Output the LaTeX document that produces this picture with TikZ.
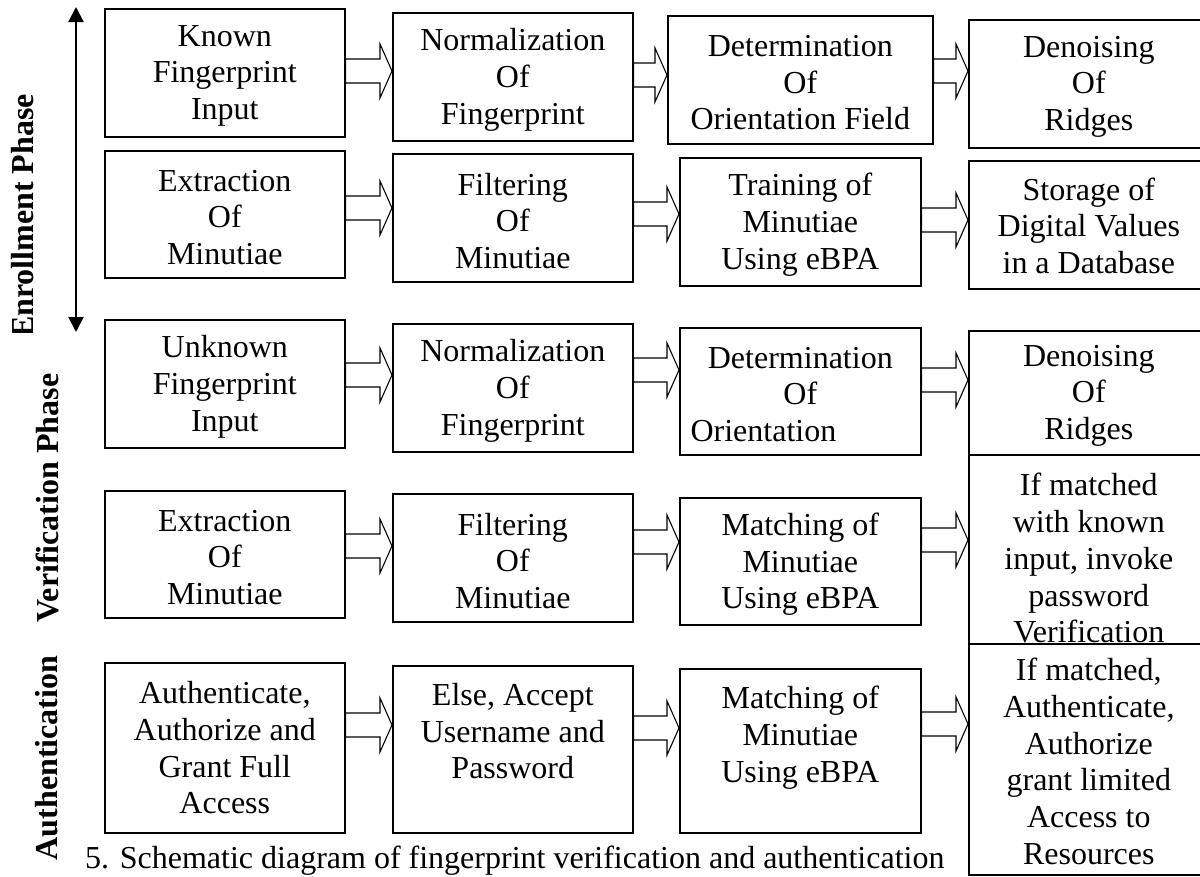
\documentclass[tikz,border=0pt]{standalone}
\usepackage{fontspec}
\setmainfont{Liberation Serif}
\usetikzlibrary{arrows.meta,calc}
\tikzset{
  box/.style={draw, line width=1.6pt, inner sep=0pt, anchor=north west},
  txt/.style={align=center, inner sep=0pt, font=\fontsize{32}{36.7}\selectfont},
  barr/.style={draw, line width=1.1pt, line join=miter},
  side/.style={rotate=90, inner sep=0pt, font=\fontsize{32}{36.7}\selectfont\bfseries},
}
% name, x1, y1, x2, y2, text shift, text
\newcommand\mkbox[7]{%
  \node[box, minimum width={(#4-#2)*1pt}, minimum height={(#5-#3)*1pt}] (#1) at (#2,#3) {};
  \node[txt] (#1t) at ($(#1.center)+(0,#6)$) {#7};}
% source, target, y
\newcommand\blk[3]{%
  \coordinate (yy) at (0,#3);
  \coordinate (s) at (#1.east |- yy);
  \coordinate (t) at (#2.west |- yy);
  \draw[barr] ($(s)+(0,-12)$) -- ($(t)+(-12,-12)$) -- ($(t)+(-12,-27)$) -- (t)
     -- ($(t)+(-12,27)$) -- ($(t)+(-12,12)$) -- ($(s)+(0,12)$) -- cycle;}
\begin{document}
\begin{tikzpicture}[x=1pt,y=-1pt]
\useasboundingbox (0,0) rectangle (1200,876);

% row 1
\mkbox{k1}{104}{8}{344}{136}{3}{Known\\Fingerprint\\Input}
\mkbox{k2}{392}{12}{632}{140}{3}{Normalization\\Of\\Fingerprint}
\mkbox{k3}{667}{15}{932}{143}{3}{Determination\\Of\\Orientation Field}
\mkbox{k4}{968}{19}{1208}{147}{3}{Denoising\\Of\\Ridges}
% row 2
\mkbox{e1}{104}{150}{344}{277}{3}{Extraction\\Of\\Minutiae}
\mkbox{e2}{392}{153}{632}{281}{3}{Filtering\\Of\\Minutiae}
\mkbox{e3}{679}{157}{920}{285}{3}{Training of\\Minutiae\\Using eBPA}
\mkbox{e4}{968}{160}{1208}{288}{1}{Storage of\\Digital Values\\in a Database}
% row 3
\mkbox{u1}{104}{319}{344}{447}{3}{Unknown\\Fingerprint\\Input}
\mkbox{u2}{392}{323}{632}{451}{3}{Normalization\\Of\\Fingerprint}
\mkbox{u3}{679}{327}{920}{454}{3}{Determination\\Of\\Orientation\phantom{ Field}}
\mkbox{u4}{968}{330}{1208}{454}{3}{Denoising\\Of\\Ridges}
% row 4
\mkbox{v1}{104}{490}{344}{617}{3}{Extraction\\Of\\Minutiae}
\mkbox{v2}{392}{493}{632}{621}{3}{Filtering\\Of\\Minutiae}
\mkbox{v3}{679}{497}{920}{624}{3}{Matching of\\Minutiae\\Using eBPA}
\mkbox{v4}{968}{454}{1208}{643}{9}{If matched\\with known\\input, invoke\\password\\Verification}
% row 5
\mkbox{a1}{104}{662}{344}{832}{0}{Authenticate,\\Authorize and\\Grant Full\\Access}
\mkbox{a2}{392}{665}{632}{832}{-18}{Else, Accept\\Username and\\Password}
\mkbox{a3}{679}{668}{920}{832}{-13}{Matching of\\Minutiae\\Using eBPA}
\mkbox{a4}{968}{643}{1208}{874}{2}{If matched,\\Authenticate,\\Authorize\\grant limited\\Access to\\Resources}

% block arrows
\blk{k1}{k2}{71}  \blk{k2}{k3}{75}  \blk{k3}{k4}{71}
\blk{e1}{e2}{208} \blk{e2}{e3}{214} \blk{e3}{e4}{220}
\blk{u1}{u2}{375} \blk{u2}{u3}{370} \blk{u3}{u4}{380}
\blk{v1}{v2}{546} \blk{v2}{v3}{542} \blk{v3}{v4}{540}
\blk{a1}{a2}{725} \blk{a2}{a3}{728} \blk{a3}{a4}{724}

% phase arrow
\coordinate (atop) at (76,7);
\coordinate (abot) at (76,332);
\draw[line width=2pt, {Triangle[width=15pt,length=15pt]}-{Triangle[width=15pt,length=15pt]}] (atop) -- (abot);

% side labels
\begin{scope}
  \clip (0,0) rectangle (40,332);
  \node[side] (enr) at (23,216) {Enrollment Phase};
\end{scope}
\node[side] (ver) at (47,498) {Verification Phase};
\node[side] (aut) at (47,758) {Authentication};

% caption
\node[anchor=base west, inner sep=0pt, font=\fontsize{32}{36.7}\selectfont] (cap) at (85,868)
  {5. Schematic diagram of fingerprint verification and authentication};
\end{tikzpicture}
\end{document}
